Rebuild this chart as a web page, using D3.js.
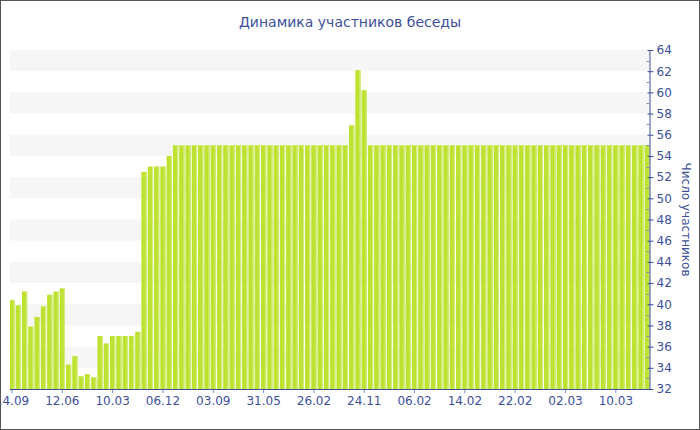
<!DOCTYPE html>
<html><head><meta charset="utf-8">
<script src="https://cdn.jsdelivr.net/npm/d3@7"></script>
<style>body{margin:0;background:#fff}svg{display:block}</style>
</head><body>
<svg id="c" width="700" height="430"></svg>
<script>
const title = "Динамика участников беседы";
const yTitle = "Число участников";
const values = [
  40.4, 39.9, 41.2, 37.9, 38.8, 39.8, 40.9, 41.2, 41.5, 34.3,
  35.1, 33.2, 33.4, 33.1, 37.0, 36.3, 37.0, 37.0, 37.0, 37.0,
  37.4, 52.5, 53, 53, 53, 54, 55, 55, 55, 55,
  55, 55, 55, 55, 55, 55, 55, 55, 55, 55,
  55, 55, 55, 55, 55, 55, 55, 55, 55, 55,
  55, 55, 55, 55, 56.9, 62.1, 60.2, 55, 55, 55,
  55, 55, 55, 55, 55, 55, 55, 55, 55, 55,
  55, 55, 55, 55, 55, 55, 55, 55, 55, 55,
  55, 55, 55, 55, 55, 55, 55, 55, 55, 55,
  55, 55, 55, 55, 55, 55, 55, 55, 55, 55,
  55, 55
];
const tickLabels = ["14.09","12.06","10.03","06.12","03.09","31.05","26.02","24.11","06.02","14.02","22.02","02.03","10.03"];
const tickEvery = 8;
const yMin = 32, yMax = 64, yStep = 2;

const svg = d3.select("#c");
const W = 700, H = 430;
const plot = {left: 10, right: 649.5, top: 50, bottom: 389};
const textColor = "#3c4f9c";
const font = "'DejaVu Sans', Verdana, sans-serif";

svg.append("rect").attr("x",0.5).attr("y",0.5).attr("width",W-1).attr("height",H-1)
  .attr("fill","#fff").attr("stroke","#555");

const idx = values.map((d,i)=>i);
const step = 6.29;
const x = d3.scaleBand().domain(idx)
  .range([12 - step/2, 12 + step*(values.length-0.5)])
  .paddingInner(0.16).paddingOuter(0.08);
const y = d3.scaleLinear().domain([yMin, yMax]).range([plot.bottom, plot.top]);

// background bands
const bands = d3.range(yMin, yMax, yStep).filter(v => ((v - yMin)/yStep) % 2 === 1);
svg.append("g").selectAll("rect").data(bands).join("rect")
  .attr("x", plot.left).attr("width", plot.right - plot.left)
  .attr("y", d => y(d + yStep)).attr("height", d => y(d) - y(d + yStep))
  .attr("fill", "#f6f6f6");

svg.append("clipPath").attr("id","clip").append("rect")
  .attr("x", plot.left).attr("y", plot.top - 5).attr("width", plot.right - plot.left).attr("height", plot.bottom - plot.top + 5);

const bars = svg.append("g").attr("clip-path","url(#clip)");
bars.selectAll("rect.bar").data(values).join("rect").attr("class","bar")
  .attr("x", (d,i)=>x(i)).attr("width", x.bandwidth())
  .attr("y", d=>y(d)).attr("height", d=>y(yMin)-y(d))
  .attr("fill", "#bde22f");
bars.selectAll("rect.hl").data(values).join("rect").attr("class","hl")
  .attr("x", (d,i)=>x(i) + x.bandwidth() - 1.2).attr("width", 1.2)
  .attr("y", d=>y(d)).attr("height", d=>y(yMin)-y(d))
  .attr("fill", "#d4ec7a");

// x axis
const xTicks = idx.filter(i => i % tickEvery === 0);
const xAxis = d3.axisBottom(x).tickValues(xTicks)
  .tickFormat(i => tickLabels[i / tickEvery]).tickSize(4).tickSizeOuter(0);
const gx = svg.append("g").attr("transform", `translate(${x.bandwidth()/2 - x.bandwidth()/2},${plot.bottom})`).call(xAxis);
gx.select(".domain").remove();
gx.append("line").attr("x1", plot.left).attr("x2", plot.right).attr("y1",0.5).attr("y2",0.5).attr("stroke", textColor);
gx.selectAll(".tick line").attr("stroke", "#8090c0");
gx.selectAll(".tick text").attr("fill", textColor).attr("font-family", font).attr("font-size", 12).attr("dy","0.75em").attr("y", 7);

// y axis (right)
const gy = svg.append("g").attr("transform", `translate(${plot.right},0)`);
const yAxis = d3.axisRight(y).tickValues(d3.range(yMin, yMax + 0.1, yStep)).tickSize(4).tickPadding(3);
gy.call(yAxis);
gy.select(".domain").attr("stroke", textColor).attr("d", `M0.5,${plot.top}V${plot.bottom}`);
gy.selectAll(".tick line").attr("stroke", textColor).attr("x1", -2);
gy.selectAll(".tick text").attr("fill", textColor).attr("font-family", font).attr("font-size", 12);
gy.selectAll("line.minor").data(d3.range(yMin + 1, yMax, yStep)).join("line").attr("class","minor")
  .attr("x1", -3).attr("x2", 0).attr("y1", d=>Math.round(y(d))+0.5).attr("y2", d=>Math.round(y(d))+0.5)
  .attr("stroke", "#8090c0");

svg.append("text").attr("x", W/2).attr("y", 27).attr("text-anchor","middle")
  .attr("fill", textColor).attr("font-family", font).attr("font-size", 14).text(title);

svg.append("text").attr("transform", `translate(682,${(plot.top+plot.bottom)/2}) rotate(90)`)
  .attr("text-anchor","middle").attr("fill", textColor).attr("font-family", font).attr("font-size", 12).text(yTitle);
</script>
</body></html>
